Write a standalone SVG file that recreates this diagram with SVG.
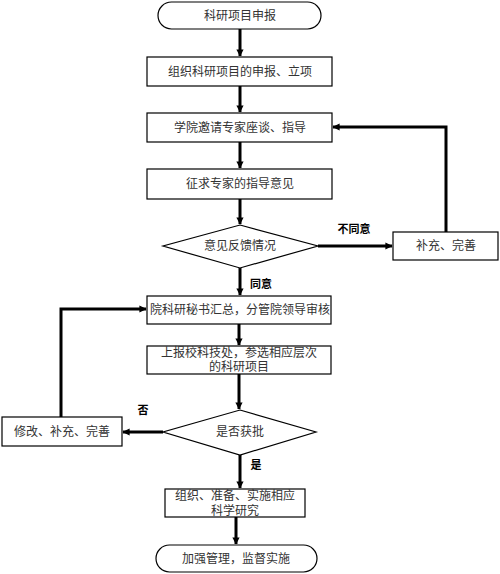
<svg xmlns="http://www.w3.org/2000/svg" width="500" height="574" viewBox="0 0 500 574">
<style>
.box{fill:#ffffff;stroke:#000;stroke-width:1.2}
.t{font-family:"Liberation Sans","Noto Sans CJK SC",sans-serif;font-size:12px;fill:#333;text-anchor:middle;dominant-baseline:central}
.lbl{font-family:"Liberation Sans","Noto Sans CJK SC",sans-serif;font-size:11px;font-weight:bold;fill:#000;text-anchor:middle;dominant-baseline:central}
.c{fill:none;stroke:#000;stroke-width:3;marker-end:url(#ah)}
</style>
<defs>
<marker id="ah" viewBox="0 0 6 6" refX="5.5" refY="3" markerWidth="2.4" markerHeight="2.4" orient="auto" markerUnits="strokeWidth">
<path d="M0,0 L6,3 L0,6 Z" fill="#000"/>
</marker>
</defs>
<rect width="500" height="574" fill="#fff"/>
<g id="connectors">
<path class="c" d="M240,29 V56"/>
<path class="c" d="M240,86 V112"/>
<path class="c" d="M240,142 V168"/>
<path class="c" d="M240,199 V224"/>
<path class="c" d="M318,246 H392"/>
<path class="c" d="M446,232 V127 H333"/>
<path class="c" d="M240,268 V295"/>
<path class="c" d="M239,324 V345"/>
<path class="c" d="M239,374 V409"/>
<path class="c" d="M163,432 H123"/>
<path class="c" d="M61,417 V309 H146"/>
<path class="c" d="M240,455 V488"/>
<path class="c" d="M236,517 V544"/>
</g>
<g id="n1"><rect class="box" x="158" y="2" width="163" height="27" rx="13.5"/><text class="t" x="240" y="15.5">科研项目申报</text></g>
<g id="n2"><rect class="box" x="147" y="57" width="185" height="29"/><text class="t" x="240" y="71.5">组织科研项目的申报、立项</text></g>
<g id="n3"><rect class="box" x="147" y="113" width="185" height="29"/><text class="t" x="240" y="127.5">学院邀请专家座谈、指导</text></g>
<g id="n4"><rect class="box" x="147" y="169" width="185" height="30"/><text class="t" x="240" y="184">征求专家的指导意见</text></g>
<g id="n5"><polygon class="box" points="240,225 318,246 240,268 163,246"/><text class="t" x="240" y="246">意见反馈情况</text></g>
<g id="n6"><rect class="box" x="393" y="232" width="105" height="28"/><text class="t" x="446" y="246">补充、完善</text></g>
<g id="n7"><rect class="box" x="147" y="296" width="184" height="28"/><text class="t" x="240" y="310">院科研秘书汇总，分管院领导审核</text></g>
<g id="n8"><rect class="box" x="147" y="346" width="184" height="28"/><text class="t" x="239" y="353">上报校科技处，参选相应层次</text><text class="t" x="239" y="367">的科研项目</text></g>
<g id="n9"><polygon class="box" points="240,410 316,432 240,455 163,432"/><text class="t" x="240" y="432">是否获批</text></g>
<g id="n10"><rect class="box" x="2" y="417" width="120" height="29"/><text class="t" x="62" y="431.5">修改、补充、完善</text></g>
<g id="n11"><rect class="box" x="165" y="489" width="140" height="28"/><text class="t" x="235" y="496">组织、准备、实施相应</text><text class="t" x="235" y="511">科学研究</text></g>
<g id="n12"><rect class="box" x="156" y="545" width="161" height="27" rx="13.5"/><text class="t" x="236" y="558.5">加强管理，监督实施</text></g>
<g id="labels">
<text class="lbl" x="354" y="229">不同意</text>
<text class="lbl" x="261" y="284">同意</text>
<text class="lbl" x="143" y="410">否</text>
<text class="lbl" x="256" y="465">是</text>
</g>
</svg>
